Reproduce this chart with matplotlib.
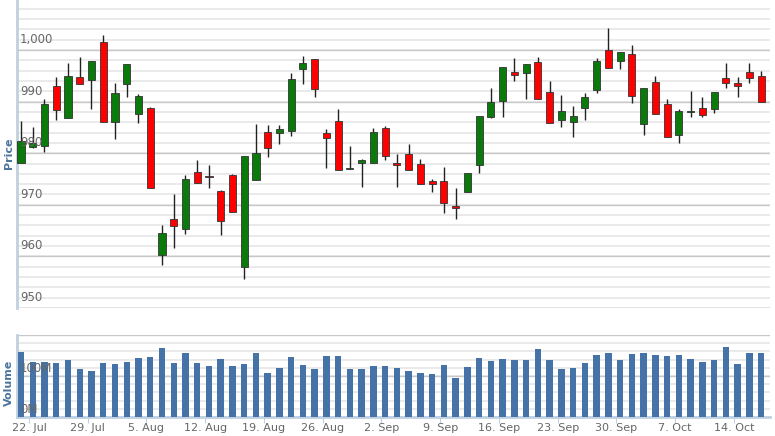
import matplotlib
matplotlib.use("Agg")
import matplotlib.pyplot as plt
import matplotlib.transforms as mtransforms
import numpy as np

opens  = [978.1,981.2,981.4,993.0,986.8,994.8,994.2,1001.5,986.0,993.4,987.6,988.7,960.2,967.2,965.4,976.3,975.4,972.6,975.7,957.9,
          974.8,984.1,983.9,984.3,996.3,998.3,983.9,986.2,976.9,978.1,978.1,984.9,978.1,979.8,977.9,974.6,974.6,969.7,972.4,977.7,
          987.0,990.1,995.7,995.5,997.7,991.8,986.4,986.0,988.7,992.2,1000.0,997.9,999.2,985.6,993.8,989.5,983.5,988.0,988.7,988.5,
          994.6,993.6,995.7,995.0]
closes = [982.3,981.9,989.5,988.3,995.0,993.4,997.9,986.0,991.6,997.3,991.1,973.2,964.5,965.8,975.1,974.2,975.3,966.8,968.7,979.4,
          980.0,981.0,984.7,994.4,997.5,992.4,982.9,976.7,977.1,978.6,984.1,979.4,977.7,976.7,974.0,974.0,970.3,969.3,976.1,987.2,
          989.9,996.7,995.1,997.3,990.5,985.8,988.2,987.2,990.9,997.9,996.5,999.6,991.1,992.6,987.6,983.1,988.2,988.1,987.4,991.8,
          993.6,993.0,994.6,989.9]
highs  = [986.2,985.0,990.5,994.8,997.5,998.6,997.9,1002.9,993.6,997.3,991.5,988.9,966.0,972.0,975.7,978.6,977.7,972.8,975.9,979.4,
          985.6,985.4,985.4,995.5,998.8,998.3,984.7,988.5,981.4,978.8,984.9,985.2,979.8,981.7,978.8,975.1,977.3,973.2,976.1,987.2,
          992.6,996.7,998.4,997.3,998.6,994.0,991.3,989.1,991.7,998.4,1004.3,999.6,1001.0,992.6,995.0,990.5,988.5,992.0,990.9,991.8,
          997.5,994.8,997.5,995.9]
lows   = [978.1,981.0,980.2,986.4,986.8,993.4,988.5,986.0,982.7,990.9,985.8,973.2,958.3,961.6,964.3,974.2,973.2,964.1,968.7,955.7,
          974.8,979.2,981.7,983.3,993.4,990.9,977.1,976.7,976.9,973.4,978.1,978.6,973.4,976.7,974.0,972.4,968.5,967.2,972.4,976.1,
          986.8,987.0,994.0,990.5,990.5,985.8,985.0,983.1,986.4,991.7,996.5,996.3,989.7,983.5,987.6,983.1,981.9,987.0,987.0,987.8,
          992.6,990.9,993.6,989.9]
volumes = [159,134,134,132,139,118,112,132,129,134,143,146,168,132,155,132,124,141,124,129,
           155,108,120,146,128,118,149,149,116,118,125,125,120,112,108,104,128,95,123,143,
           137,141,139,139,165,139,118,120,132,151,155,139,153,155,151,149,151,141,134,139,
           170,129,155,155]
week_labels = ["22. Jul","29. Jul","5. Aug","12. Aug","19. Aug","26. Aug","2. Sep","9. Sep",
               "16. Sep","23. Sep","30. Sep","7. Oct","14. Oct"]

x = np.arange(len(opens))
o = np.array(opens); c = np.array(closes); h = np.array(highs); l = np.array(lows)

fig = plt.figure(figsize=(7.75, 4.36), dpi=100)
ax = fig.add_axes([17/775, 1-308/436, 753/775, 308/436])
axv = fig.add_axes([17/775, 1-417/436, 753/775, 82/436], sharex=ax)

GREEN = "#0a7a0a"; RED = "#ff0000"; TXT = "#666666"; LAB = "#4d759e"

def grid(a, lo, hi, minor, major):
    for v in np.arange(lo, hi + 1e-6, minor):
        a.axhline(v, color="#e6e6e6", lw=1.2, zorder=0)
    for v in np.arange(lo, hi + 1e-6, major):
        a.axhline(v, color="#c8c8c8", lw=1.0, zorder=0.5)

grid(ax, 950, 1008, 2, 10)
up = c >= o
ax.vlines(x, l, h, color="#222222", lw=1.0, zorder=2)
ax.bar(x, np.maximum(np.abs(c - o), 0.25), bottom=np.minimum(o, c), width=0.6,
       color=np.where(up, GREEN, RED), edgecolor="#333333", lw=0.6, zorder=3)
ax.set_ylim(950, 1009.7)
ax.set_xlim(-0.34, 63.75)
ax.set_yticks([]); ax.tick_params(axis="x", bottom=False, labelbottom=False)
tr = mtransforms.blended_transform_factory(ax.transAxes, ax.transData)
for v in range(950, 1001, 10):
    ax.text(0.004, v + 0.8, f"{v:,}", transform=tr, fontsize=8.5, color=TXT, ha="left", va="bottom", zorder=4)
for s in ["top", "right", "bottom"]:
    ax.spines[s].set_visible(False)
ax.spines["left"].set_color("#c0d0e0"); ax.spines["left"].set_linewidth(2)
fig.text(9/775, 1-153/436, "Price", rotation=90, ha="center", va="center",
         fontsize=8, fontweight="bold", color=LAB)

grid(axv, 0, 200, 20, 100)
axv.bar(x, volumes, width=0.55, color="#4572a7", zorder=3)
axv.set_ylim(0, 200)
axv.set_yticks([])
trv = mtransforms.blended_transform_factory(axv.transAxes, axv.transData)
for v, t in [(0, "0M"), (100, "100M")]:
    axv.text(0.004, v + 3, t, transform=trv, fontsize=8.5, color=TXT, ha="left", va="bottom", zorder=4)
for s in ["top", "right"]:
    axv.spines[s].set_visible(False)
axv.spines["left"].set_color("#c0d0e0"); axv.spines["left"].set_linewidth(2)
axv.spines["bottom"].set_color("#c0d0e0"); axv.spines["bottom"].set_linewidth(2)
fig.text(9/775, 1-383/436, "Volume", rotation=90, ha="center", va="center",
         fontsize=8, fontweight="bold", color=LAB)
ticks = 0.68 + 5 * np.arange(len(week_labels))
axv.set_xticks(ticks)
axv.set_xticklabels(week_labels, fontsize=8, color=TXT)
axv.tick_params(axis="x", length=4, color="#c0d0e0", pad=0.5)

fig.savefig("out.png", dpi=100)
